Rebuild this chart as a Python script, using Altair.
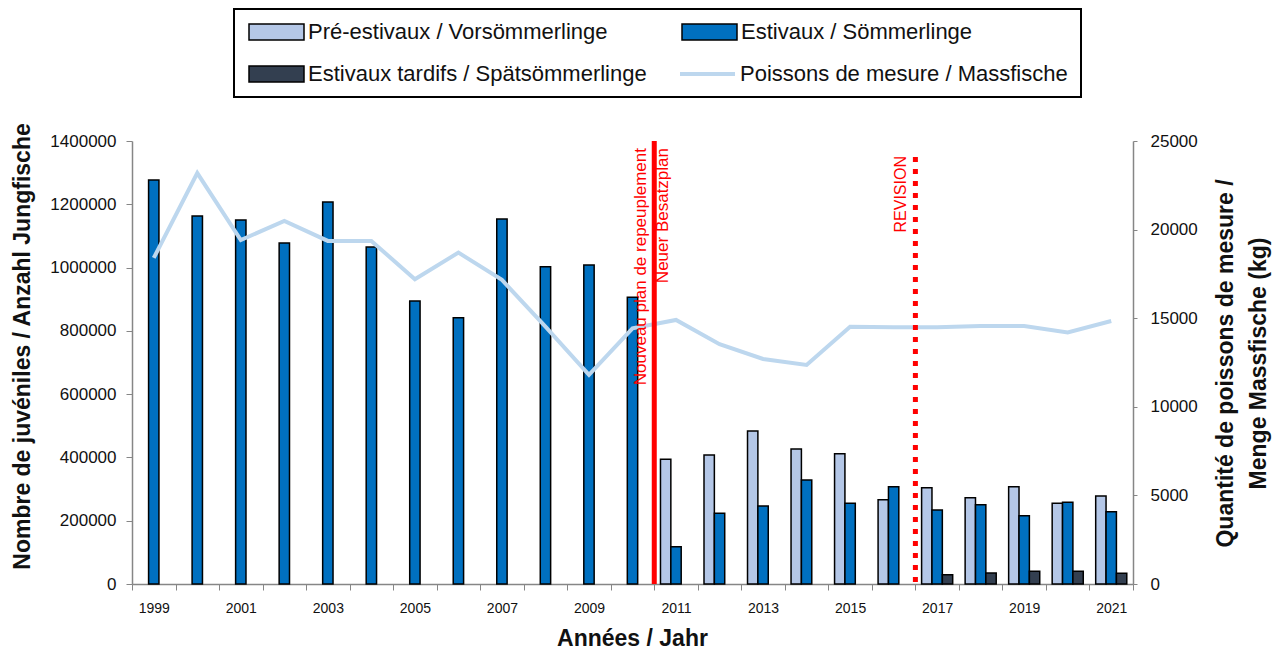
import altair as alt
import pandas as pd

# ---------------- data ----------------
years = [str(y) for y in range(1999, 2022)]

S_PRE = "Pré-estivaux / Vorsömmerlinge"
S_EST = "Estivaux / Sömmerlinge"
S_TARD = "Estivaux tardifs / Spätsömmerlinge"
S_LINE = "Poissons de mesure / Massfische"

pre_estivaux = [None] * 12 + [394000, 407700, 483500, 426600, 411900, 266500,
                              304400, 272800, 307600, 255000, 278100]
estivaux = [1276700, 1163000, 1150300, 1077700, 1207200, 1065000, 894000, 841600,
            1153500, 1002800, 1008000, 906000, 118000, 223300, 246500, 328700,
            254900, 307600, 233900, 250700, 216000, 258100, 228600]
tardifs = [None] * 18 + [29500, 34800, 40000, 40000, 33700]

massfische_kg = [18400, 23190, 19410, 20490, 19360, 19360, 17200, 18700, 17160,
                 14520, 11800, 14430, 14900, 13530, 12700, 12360, 14520, 14490,
                 14490, 14560, 14560, 14200, 14840]

plan_year = ["2011"]
plan_label = ["Nouveau plan de repeuplement\nNeuer Besatzplan"]
revision_year = ["2017"]
revision_label = ["REVISION"]

# ---------------- styles ----------------
C_PRE, C_EST, C_TARD, C_LINE = "#B4C7E7", "#0070C0", "#333F50", "#BDD7EE"
RED = "#FF0000"
AXIS_GREY = "#868686"
TXT = "#111111"
FONT = "Liberation Sans"

rows = []
for series, vals in ((S_PRE, pre_estivaux), (S_EST, estivaux), (S_TARD, tardifs)):
    for y, v in zip(years, vals):
        if v is not None:
            rows.append({"year": y, "series": series, "value": v})
bars_df = pd.DataFrame(rows)
line_df = pd.DataFrame({"year": years, "kg": massfische_kg, "series": S_LINE})
plan_df = pd.DataFrame({"year": plan_year, "label": plan_label})
rev_df = pd.DataFrame({"year": revision_year, "label": revision_label})

x_scale = alt.Scale(domain=years, paddingInner=0, paddingOuter=0)
fill_scale = alt.Scale(domain=[S_PRE, S_EST, S_TARD, S_LINE],
                       range=[C_PRE, C_EST, C_TARD, C_LINE])
stroke_scale = alt.Scale(domain=[S_LINE], range=[C_LINE])

RECT_SYMBOL = "M-1,-1H5.875V1H-1Z"
LINE_SYMBOL = "M-1,0H5.875"

bar_legend = alt.Legend(
    title=None, orient="none", legendX=102, legendY=-132, columns=2, direction="horizontal",
    columnPadding=32, rowPadding=20, labelFontSize=22, labelColor=TXT,
    labelLimit=500, symbolSize=256, labelOffset=40, padding=12,
    strokeColor="black", fillColor="white", symbolType=RECT_SYMBOL,
    symbolStrokeColor="black", symbolStrokeWidth=1.5, symbolOpacity=1, zindex=0,
)
line_legend = alt.Legend(
    title=None, orient="none", legendX=541, legendY=-82,
    labelFontSize=22, labelColor=TXT, labelLimit=500, symbolSize=256, labelOffset=41,
    padding=4, fillColor="white", symbolType=LINE_SYMBOL, symbolStrokeWidth=4,
    symbolOpacity=1, zindex=1,
)

x_axis = alt.Axis(
    labelExpr="toNumber(datum.value) % 2 == 1 ? datum.value : ''",
    labelAngle=0, tickBand="extent", domainColor=AXIS_GREY, tickColor=AXIS_GREY,
    domainWidth=1.5, tickSize=6, labelFontSize=14, labelColor=TXT, labelPadding=11,
    title="Années / Jahr", titleFontSize=23, titleFontWeight="bold", titleColor=TXT,
    titleX=500, titleY=54, titleAlign="center", titleBaseline="middle",
)

bars = alt.Chart(bars_df).mark_bar(stroke="black", strokeWidth=1.5).encode(
    x=alt.X("year:N", scale=x_scale, axis=x_axis),
    xOffset=alt.XOffset("series:N", scale=alt.Scale(domain=[S_PRE, S_EST, S_TARD],
                                                    paddingInner=0, paddingOuter=0.6)),
    y=alt.Y("value:Q", scale=alt.Scale(domain=[0, 1400000]),
            axis=alt.Axis(format="d", values=list(range(0, 1400001, 200000)), grid=False,
                          tickSize=6, domainColor=AXIS_GREY, tickColor=AXIS_GREY,
                          domainWidth=1.5, labelFontSize=17, labelColor=TXT, labelPadding=10,
                          title="Nombre de juvéniles / Anzahl Jungfische", titleFontSize=23,
                          titleFontWeight="bold", titleColor=TXT, titleAngle=270,
                          titleX=-110, titleY=205, titleAlign="center",
                          titleBaseline="middle")),
    fill=alt.Fill("series:N", scale=fill_scale, legend=bar_legend),
)

line = alt.Chart(line_df).mark_line(strokeWidth=4).encode(
    x=alt.X("year:N", scale=x_scale),
    y=alt.Y("kg:Q", scale=alt.Scale(domain=[0, 25000]),
            axis=alt.Axis(orient="right", format="d", values=list(range(0, 25001, 5000)),
                          grid=False, tickSize=4, domainColor=AXIS_GREY, tickColor=AXIS_GREY,
                          domainWidth=1.5, labelFontSize=17, labelColor=TXT, labelPadding=13,
                          title=["Quantité de poissons de mesure /", "Menge Massfische (kg)"],
                          titleFontSize=23, titleFontWeight="bold", titleColor=TXT,
                          titleLineHeight=33, titleAngle=270, titleX=92, titleY=222,
                          titleAlign="center", titleBaseline="middle")),
    stroke=alt.Stroke("series:N", scale=stroke_scale, legend=line_legend),
)

plan_rule = alt.Chart(plan_df).mark_rule(color=RED, strokeWidth=5).encode(
    x=alt.X("year:N", scale=x_scale, bandPosition=0),
)
rev_rule = alt.Chart(rev_df).mark_rule(color=RED, strokeWidth=5, strokeDash=[5, 7]).encode(
    x=alt.X("year:N", scale=x_scale, bandPosition=0),
    y=alt.value(16), y2=alt.value(443),
)
plan_text = alt.Chart(plan_df).mark_text(
    angle=270, align="right", baseline="middle", color=RED, fontSize=17,
    lineBreak="\n", lineHeight=22, dy=-13,
).encode(x=alt.X("year:N", scale=x_scale, bandPosition=0), y=alt.value(7), text="label:N")
rev_text = alt.Chart(rev_df).mark_text(
    angle=270, align="right", baseline="middle", color=RED, fontSize=16, dy=-14,
).encode(x=alt.X("year:N", scale=x_scale, bandPosition=0), y=alt.value(15), text="label:N")

chart = alt.layer(bars, line, plan_rule, rev_rule, plan_text, rev_text).resolve_scale(
    y="independent"
).properties(
    width=1001, height=443,
    autosize=alt.AutoSizeParams(type="none"),
    padding={"left": 124, "top": 133, "right": 143, "bottom": 66},
).configure(font=FONT).configure_view(stroke=None).configure_legend(strokeWidth=2)

chart.save("out.html", embed_options={"renderer": "svg", "actions": False})
